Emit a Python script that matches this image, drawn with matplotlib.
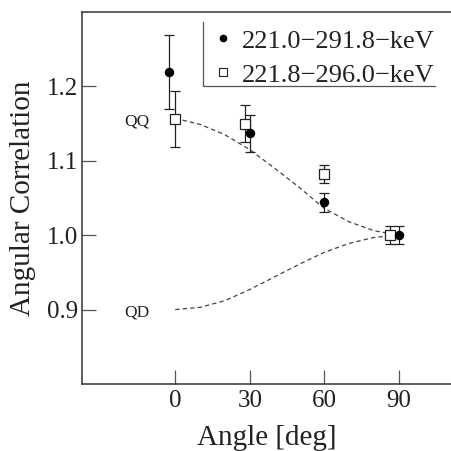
import matplotlib
matplotlib.use("Agg")
import matplotlib.pyplot as plt
from matplotlib.lines import Line2D

plt.rcParams["font.family"] = ["Liberation Serif", "DejaVu Serif"]

# 221.0-291.8 keV (filled circles)
ang_a = [-2.4, 30.2, 60.0, 90.0]
val_a = [1.219, 1.137, 1.044, 1.000]
err_a = [0.050, 0.025, 0.0125, 0.012]

# 221.8-296.0 keV (open squares)
ang_b = [0.0, 28.0, 60.0, 86.5]
val_b = [1.156, 1.150, 1.082, 1.000]
err_b = [0.038, 0.025, 0.012, 0.012]

# theoretical curves
curve_ang = [0, 10, 20, 30, 40, 50, 60, 70, 80, 90]
curve_qq = [1.157, 1.149, 1.135, 1.115, 1.090, 1.064, 1.036, 1.018, 1.006, 1.000]
curve_qd = [0.900, 0.903, 0.912, 0.927, 0.944, 0.961, 0.977, 0.989, 0.997, 1.000]

labels = ["221.0\u2212291.8\u2212keV", "221.8\u2212296.0\u2212keV"]
xticks = [0, 30, 60, 90]
yticks = [0.9, 1.0, 1.1, 1.2]

ink = "#222222"

fig = plt.figure(figsize=(4.51, 4.51), dpi=100)
ax = fig.add_axes([0.182, 0.1486, 0.818, 0.8248])

ax.plot(curve_ang, curve_qq, ls=(0, (3.5, 2.5)), color="#444444", lw=0.9)
ax.plot(curve_ang, curve_qd, ls=(0, (3.5, 2.5)), color="#444444", lw=0.9)

ax.errorbar(ang_b, val_b, yerr=err_b, fmt="s", ms=6.5, mfc="white", mec=ink,
            mew=0.9, ecolor=ink, elinewidth=0.9, capsize=3.5, capthick=0.9)
ax.errorbar(ang_a, val_a, yerr=err_a, fmt="o", ms=5.8, mfc="black", mec="black",
            ecolor=ink, elinewidth=0.9, capsize=3.5, capthick=0.9)

ax.text(-15.4, 1.153, "QQ", fontsize=12.5, ha="center", va="center", color=ink)
ax.text(-15.4, 0.896, "QD", fontsize=12.5, ha="center", va="center", color=ink)

ax.set_xlim(-37.5, 111)
ax.set_ylim(0.8, 1.3)
ax.set_xticks(xticks)
ax.set_xticklabels([str(t) for t in xticks])
ax.set_yticks(yticks)
ax.set_yticklabels(["%.1f" % t for t in yticks])
ax.tick_params(direction="in", length=10, width=0.9, color="#555555",
               labelsize=18, labelcolor=ink)
ax.tick_params(axis="x", pad=4)
ax.tick_params(axis="y", pad=3)
ax.spines["right"].set_visible(False)
for s in ["left", "bottom", "top"]:
    ax.spines[s].set_color("#333333")
    ax.spines[s].set_linewidth(1.1)

ax.set_xlabel("Angle [deg]", fontsize=21, color=ink, labelpad=10)
ax.set_ylabel("Angular Correlation", fontsize=21, color=ink, labelpad=8)

handles = [
    Line2D([], [], ls="none", marker="o", ms=4.5, mfc="black", mec="black"),
    Line2D([], [], ls="none", marker="s", ms=5.5, mfc="white", mec=ink, mew=0.8),
]
ax.legend(handles, labels, loc="upper left", bbox_to_anchor=(0.36, 0.954),
          frameon=False, fontsize=19, handlelength=0.6, handletextpad=0.42,
          borderpad=0, borderaxespad=0, labelspacing=0.4, labelcolor=ink)
# legend frame: only left and bottom edges
ax.plot([0.329, 0.329, 0.957], [0.974, 0.802, 0.802], transform=ax.transAxes,
        color="#555555", lw=0.9, clip_on=False)

plt.savefig("out.png", dpi=100)
